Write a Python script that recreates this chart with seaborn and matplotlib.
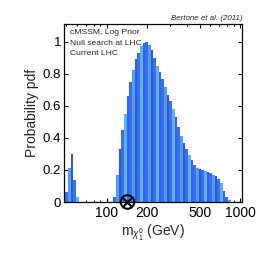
import matplotlib
matplotlib.use("Agg")
import matplotlib.pyplot as plt
import matplotlib.ticker as mticker
import seaborn as sns
import pandas as pd

# --- data ---
mass_gev = [50.1, 52.5, 55.0, 57.5, 60.3,
            114.8, 120.2, 125.9, 131.8, 138.0, 144.5, 151.4, 158.5, 166.0, 173.8,
            182.0, 190.5, 199.5, 208.9, 218.8, 229.1, 239.9, 251.2, 263.0, 275.4,
            288.4, 302.0, 316.2, 331.1, 346.7, 363.1, 380.2, 398.1, 416.9, 436.5,
            457.1, 478.6, 501.2, 524.8, 549.5, 575.4, 602.6, 631.0, 660.7, 691.8,
            724.4, 758.6, 794.3, 831.8]
pdf = [0.06, 0.21, 0.30, 0.14, 0.03,
       0.03, 0.17, 0.33, 0.45, 0.55, 0.66, 0.75, 0.82, 0.89, 0.93,
       0.97, 0.99, 1.00, 0.98, 0.95, 0.90, 0.85, 0.81, 0.77, 0.72,
       0.67, 0.63, 0.58, 0.53, 0.47, 0.41, 0.37, 0.33, 0.29, 0.26,
       0.23, 0.215, 0.205, 0.20, 0.195, 0.185, 0.18, 0.17, 0.16, 0.145,
       0.12, 0.07, 0.03, 0.01]
xtick_vals = [100, 200, 500, 1000]
xtick_labels = ["100", "200", "500", "1000"]
ytick_vals = [0, 0.2, 0.4, 0.6, 0.8, 1]
ytick_labels = ["0", "0.2", "0.4", "0.6", "0.8", "1"]
annot_lines = ["cMSSM, Log Prior", "Null search at LHC", "Current LHC"]
credit = "Bertone et al. (2011)"
benchmark_mass = [143.5]
benchmark_pdf = [0.0]

sns.set_style("ticks")
plt.rcParams['font.family'] = ['Liberation Sans', 'DejaVu Sans']
plt.rcParams['mathtext.fontset'] = 'custom'
plt.rcParams['mathtext.rm'] = 'Liberation Sans'
plt.rcParams['mathtext.it'] = 'Liberation Sans:italic'

fig = plt.figure(figsize=(2.66, 2.66), dpi=100)
ax = fig.add_axes([0.2406, 0.2406, 0.6692, 0.6692])

df = pd.DataFrame({"mass": mass_gev, "pdf": pdf})
sns.histplot(data=df, x="mass", weights="pdf", binwidth=0.02, binrange=(1.69, 3.01),
             log_scale=True, ax=ax, color="#3d6ff2", alpha=1, linewidth=0)

stripe = ["#3a6cf4", "#4f9ff2", "#2d58ea", "#3c70f3", "#5cb3f3", "#3264ef"]
for i, p in enumerate(ax.patches):
    p.set_facecolor(stripe[i % len(stripe)])
    p.set_edgecolor("none")

sns.scatterplot(x=benchmark_mass, y=benchmark_pdf, marker='o', s=95, facecolor='none',
                edgecolor='black', linewidth=1.5, clip_on=False, zorder=6, ax=ax)
sns.scatterplot(x=benchmark_mass, y=benchmark_pdf, marker='x', s=45, color='black',
                linewidth=1.5, clip_on=False, zorder=7, ax=ax)

ax.set_xlim(48, 1035)
ax.set_ylim(0, 1.11)
ax.set_xticks(xtick_vals)
ax.set_xticklabels(xtick_labels)
ax.xaxis.set_minor_locator(mticker.LogLocator(base=10, subs=range(1, 10), numticks=20))
ax.xaxis.set_minor_formatter(mticker.NullFormatter())
ax.set_yticks(ytick_vals)
ax.set_yticklabels(ytick_labels)

ax.tick_params(which='both', direction='in', top=True, right=True, width=0.8, colors='black')
ax.tick_params(axis='x', which='major', labelsize=10, pad=3)
ax.tick_params(axis='y', which='major', labelsize=9.5, pad=2)
ax.tick_params(which='major', length=3)
ax.tick_params(which='minor', length=1.5)
for s in ax.spines.values():
    s.set_linewidth(0.9)
    s.set_color('black')

ax.set_ylabel("Probability pdf", fontsize=10, labelpad=3)
ax.set_xlabel(r"m$_{\chi^0_1}$ (GeV)", fontsize=10, labelpad=2)

for txt, yy in zip(annot_lines, [0.951, 0.893, 0.837]):
    ax.text(0.034, yy, txt, transform=ax.transAxes, fontsize=6.1, va='center', ha='left')
ax.text(1.0, 1.03, credit, transform=ax.transAxes, fontsize=5.7, style='italic',
        va='center', ha='right')

fig.savefig("out.png", dpi=100)
